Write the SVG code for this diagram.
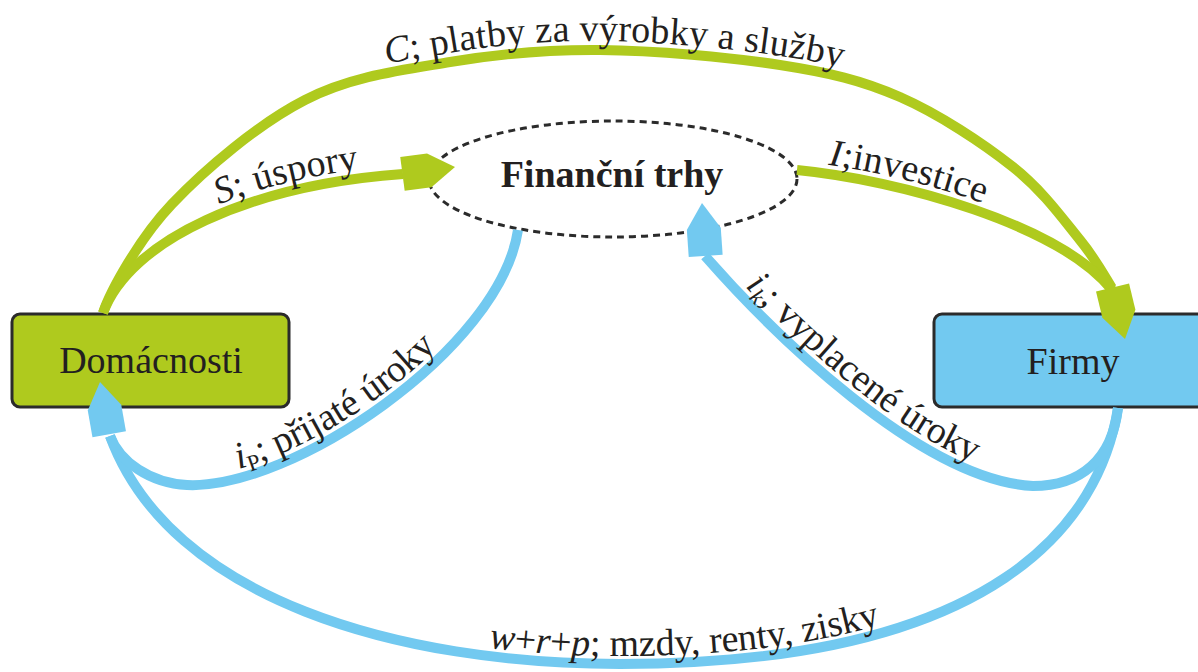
<svg xmlns="http://www.w3.org/2000/svg" xmlns:xlink="http://www.w3.org/1999/xlink" width="1198" height="672" viewBox="0 0 1198 672">
<style>
.g{fill:none;stroke:#afca1e;stroke-width:10}
.b{fill:none;stroke:#72c9f0;stroke-width:10}
.ahg{fill:#afca1e}
.ahb{fill:#72c9f0}
.box{stroke:#2b2b2b;stroke-width:3}
.nt{font-family:"Liberation Serif","Times New Roman",serif;font-size:38px;fill:#231f20;text-anchor:middle}
.lbl{font-family:"Liberation Serif","Times New Roman",serif;font-size:38px;fill:#231f20}
.it{font-style:italic}
</style>
<defs>
<polygon id="ah" points="0,0 -26,-17 -53,-17 -53,17 -26,17"/>
<path id="tS" d="M103,313 C130,240 250,185 402,174"/>
<path id="tP" d="M187,485 C290,490 500,350 518,230"/>
<path id="tK" d="M705,256 C770,330 920,480 1033,486"/>
<path id="tW" d="M110,436 C170,600 400,664 620,664 C1000,664 1100,520 1118,408"/>
</defs>
<rect width="1198" height="672" fill="#ffffff"/>
<g id="domacnosti">
<rect class="box" x="12" y="314" width="277" height="93" rx="8" fill="#afca1e"/>
<text class="nt" x="151" y="373">Domácnosti</text>
</g>
<g id="firmy">
<rect class="box" x="934" y="314" width="280" height="93" rx="8" fill="#72c9f0"/>
<text class="nt" x="1073" y="374">Firmy</text>
</g>
<g id="financni-trhy">
<ellipse cx="613" cy="179" rx="184" ry="58" fill="none" stroke="#2b2b2b" stroke-width="3" stroke-dasharray="7 5"/>
<text class="nt" x="612" y="187" font-weight="bold">Finanční trhy</text>
</g>
<g id="connectors">
<path id="pC" class="g" d="M103,313 C110,292 138.3,239.5 172,204 C205.7,168.5 258.7,123.7 305,100 C351.3,76.3 400.8,70.3 450,62 C499.2,53.7 545,49.5 600,50 C655,50.5 730,57.2 780,65 C830,72.8 861.2,80 900,97 C938.8,114 983,143.2 1013,167 C1043,190.8 1063.5,219.8 1080,240 C1096.5,260.2 1106.7,280 1112,288"/>
<path class="g" d="M103,313 C130,240 250,185 403,174"/>
<path id="pI" class="g" d="M797,170 C900,180 1060,225 1112,290"/>
<path class="b" d="M1118,408 C1100,520 1000,664 620,664 C400,664 170,600 110,436"/>
<path class="b" d="M518,230 C500,350 290,490 187,485 C150,483 120,462 110,436"/>
<path class="b" d="M1118,408 C1112,460 1080,486 1033,486 C920,480 770,330 705,256"/>
<use href="#ah" xlink:href="#ah" class="ahg" transform="translate(455,167) rotate(-7.5)"/>
<use href="#ah" xlink:href="#ah" class="ahg" transform="translate(1125,339) rotate(76.4)"/>
<use href="#ah" xlink:href="#ah" class="ahb" transform="translate(702,203) rotate(-94)"/>
<use href="#ah" xlink:href="#ah" class="ahb" transform="translate(100,382) rotate(-100)"/>
</g>
<g id="labels">
<text class="lbl"><textPath href="#pC" xlink:href="#pC" startOffset="387"><tspan dy="-9" class="it">C</tspan>; platby za výrobky a služby</textPath></text>
<text class="lbl"><textPath href="#tS" xlink:href="#tS" startOffset="160"><tspan dy="-9" class="it">S</tspan>; úspory</textPath></text>
<text class="lbl"><textPath href="#pI" xlink:href="#pI" startOffset="30"><tspan dy="-9" class="it">I</tspan>;investice</textPath></text>
<text class="lbl"><textPath href="#tP" xlink:href="#tP" startOffset="55"><tspan dy="-9" class="it">i</tspan><tspan dy="6" font-size="23">P</tspan><tspan dy="-6">; přijaté úroky</tspan></textPath></text>
<text class="lbl"><textPath href="#tK" xlink:href="#tK" startOffset="50"><tspan dy="-9" class="it">i</tspan><tspan dy="6" font-size="23" class="it">k</tspan><tspan dy="-6">; vyplacené úroky</tspan></textPath></text>
<text class="lbl"><textPath href="#tW" xlink:href="#tW" startOffset="459"><tspan dy="-8" class="it">w</tspan>+<tspan class="it">r</tspan>+<tspan class="it">p</tspan>; mzdy, renty, zisky</textPath></text>
</g>
</svg>
